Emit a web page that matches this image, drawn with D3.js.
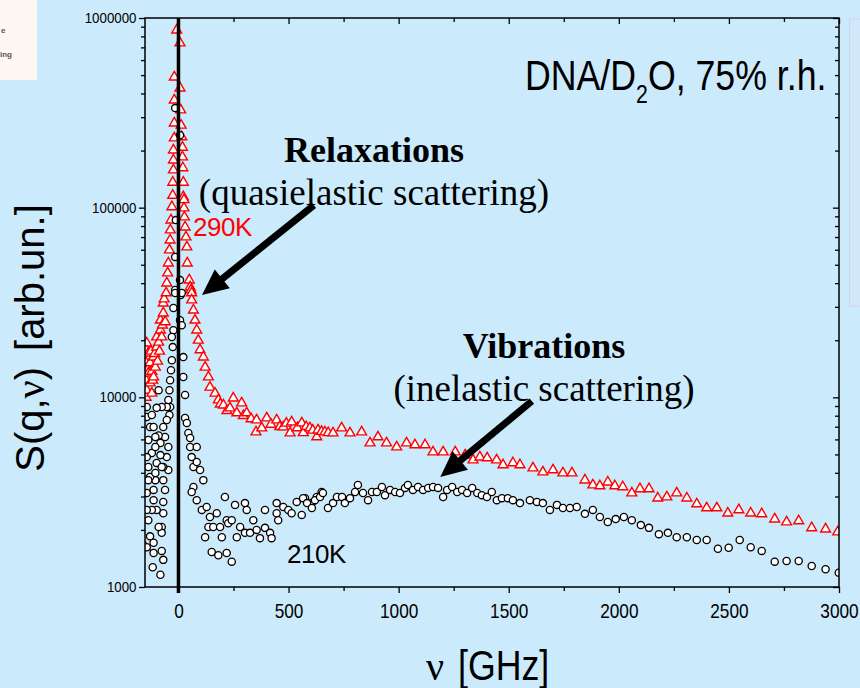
<!DOCTYPE html>
<html><head><meta charset="utf-8">
<script src="https://cdn.jsdelivr.net/npm/d3@7"></script>
<style>body{margin:0;background:#cbeafc;} svg{display:block}</style>
</head><body><svg id="c" width="860" height="688"></svg>
<script>
// ---- data: 290K (red triangles), frequency in GHz and S(q,nu) in arb. units
const nu290 = [-150,-147,-147,-147,-147,-144,-144,-140,-137,-137,-129,-129,-125,-121,-121,-117,-113,-113,-108,-105,-99,-99,-95,-90,-86,-82,-82,-76,-73,-69,-69,-65,-60,-56,-53,-49,-46,-41,-38,-37,-34,-30,-26,-26,-23,-23,-23,-19,-19,-19,-19,-8,
  7,7,10,12,15,18,18,20,22,22,25,25,27,30,34,38,40,49,53,57,60,60,68,75,83,90,98,113,121,136,143,166,181,190,204,220,234,249,265,287,295,310,330,352,355,378,401,420,446,460,476,490,507,514,540,560,567,580,597,610,628,634,650,665,680,702,741,779,832,870,906,945,991,1036,1074,1120,1156,1202,1257,1302,1338,1369,1402,1445,1474,1519,1551,1610,1655,1701,1746,1787,1846,1882,1914,1950,1982,2018,2059,2096,2137,2177,2218,2263,2309,2354,2399,2445,2495,2545,2599,2649,2708,2762,2817,2876,2939,2994];
const s290 = [1620,18000,15200,12300,10000,19300,10900,14000,17100,13400,15200,11900,17500,10500,13700,12300,12800,16300,17000,14400,18400,20800,15500,19500,17500,22600,25500,20800,24000,27800,31400,33000,25000,35500,40000,45200,51000,59800,67400,76200,86000,101000,116000,136000,158000,178000,201000,233000,279000,369000,488000,863000,
  738000,427000,327000,272000,236000,208000,185000,162000,136000,114000,110000,99500,89200,79000,70000,62000,51000,41500,38100,36800,35500,32600,28800,25500,22600,20000,17800,16300,14400,12800,11300,10500,9680,9200,9100,8500,8780,9900,8270,9330,8000,8270,7700,6560,7590,6890,7780,7200,7590,7000,6970,7300,6480,7410,6900,7320,6500,7000,6890,6700,6180,6720,6600,6560,6500,6480,6890,6480,6560,5740,6180,5740,5470,5740,5610,5610,5150,5150,5150,4960,4670,4840,4790,4670,4400,4510,4400,4240,4040,4140,3990,3990,3660,3450,3410,3570,3410,3370,3130,3290,3290,2940,2980,3130,2940,2740,2610,2610,2450,2550,2450,2430,2280,2200,2230,2050,2020,1950];

// ---- data: 210K (black circles)
const nu210 = [-15,7,-12,-15,7,-15,10,15,-15,-23,-23,-30,-26,-30,-34,-38,-41,-46,-38,-53,-41,-53,-69,-61,-82,-90,-46,-53,-46,-69,-61,-69,-69,-76,-76,-90,-99,-113,-121,-105,-129,-137,-137,-129,-113,-113,-117,-82,-69,-76,-144,-144,-144,-129,-113,-121,-105,-99,-82,-69,-90,-76,-99,-121,-105,-137,-144,-144,-113,-144,-76,-105,-137,
  7,15,22,22,30,30,38,45,53,53,60,83,68,83,98,113,68,60,83,106,128,143,136,121,158,174,189,197,211,219,226,242,257,265,280,302,310,302,325,340,355,370,393,393,416,423,446,446,453,476,499,514,537,560,575,605,628,650,151,181,219,242,
  566,584,606,620,643,656,679,702,720,743,756,779,802,815,838,861,879,901,924,938,961,984,1006,1029,1042,1065,1088,1111,1134,1156,1179,1202,1220,1243,1266,1288,1311,1334,1357,1378,1401,1423,1446,1469,1496,1519,1551,1596,1628,1655,1687,1719,1746,1778,1809,
  1846,1882,1914,1950,1986,2023,2059,2100,2137,2182,2223,2263,2309,2354,2399,2450,2499,2549,2599,2649,2708,2762,2817,2876,2939,2999];
const s210 = [335000,241000,86000,55000,41500,36800,34600,35500,35500,29600,22600,20800,18400,15700,13900,12300,10900,9680,8890,8890,8070,7590,6970,6180,5740,6300,5470,4840,4140,3660,3250,2810,2450,2070,1930,2070,2550,2870,2550,3660,3800,3660,2250,1850,1710,1510,1270,1160,1390,1550,1620,8890,7870,6970,6970,5090,5470,4510,4960,4290,10900,8890,8800,8070,6180,5960,4840,3130,3250,2550,4290,3990,4290,
  25500,24000,16300,12800,10300,7780,7320,6480,6100,5470,4840,5470,4290,4560,4140,3660,3370,3170,2870,2550,2640,2340,2070,1830,2070,2450,2070,1830,2980,2250,2170,2250,2710,1830,2070,2770,2550,1930,1930,2250,2000,1810,2550,2050,1930,1810,2770,2450,2250,2640,2550,2450,2810,2400,2940,2770,2980,3170,1530,1470,1510,1360,
  2940,2770,2610,2870,2980,3130,2610,2770,2980,2980,2770,2940,3170,3450,3130,2870,3170,3170,3370,3050,3250,3170,3130,3330,3450,3250,3370,3250,3330,3370,3330,2980,3250,3370,3170,3250,3130,3330,3130,3050,2980,3170,2870,2940,2940,2870,2770,2870,2810,2770,2550,2710,2610,2610,2640,
  2430,2550,2340,2200,2280,2340,2250,2120,2050,1900,1930,1830,1830,1770,1770,1590,1610,1770,1620,1550,1360,1370,1370,1290,1240,1190];

// ---- axes ticks
const xMajor = [0,500,1000,1500,2000,2500,3000];
const xMinor = [250,750,1250,1750,2250,2750];
const yMajor = [1000,10000,100000,1000000];
const yMinorMult = [2,3,4,5,6,7,8,9];
const yDecades = [1000,10000,100000];

// ---- annotations (data coordinates)
const arrows = [
  {from:[615,103000], to:[107,34600]},
  {from:[1605,9550], to:[1189,3800]}
];

const BG = "#cbeafc";
const W = 860, H = 688;
const m = {l:145, t:18, r:839, b:587};
const x = d3.scaleLinear().domain([-152,3000]).range([m.l,m.r]);
const y = d3.scaleLog().domain([1000,1e6]).range([m.b,m.t]);
const SANS = "Arial, 'Liberation Sans', sans-serif";
const SERIF = "'Times New Roman', 'Liberation Serif', serif";

const svg = d3.select("#c");
svg.append("rect").attr("width",W).attr("height",H).attr("fill",BG);

// remnants of slide at edges
svg.append("rect").attr("x",0).attr("y",0).attr("width",37).attr("height",80).attr("fill","#fdf8f2");
svg.append("text").attr("x",1).attr("y",33).attr("font-family",SANS).attr("font-size",8).attr("font-weight","bold").attr("fill","#555").text("e");
svg.append("text").attr("x",0).attr("y",57).attr("font-family",SANS).attr("font-size",8).attr("font-weight","bold").attr("fill","#555").text("ing");
svg.append("rect").attr("x",849.5).attr("y",19).attr("width",12).attr("height",287).attr("fill","#d3e7fb").attr("stroke","#cdd4ec").attr("stroke-width",1);

svg.append("defs").append("clipPath").attr("id","clip").append("rect")
  .attr("x",m.l).attr("y",m.t).attr("width",m.r-m.l).attr("height",m.b-m.t);

// ---- axes
const yMinor = [];
yDecades.forEach(d => yMinorMult.forEach(k => yMinor.push(d*k)));

function styleAxis(g){ g.select(".domain").remove(); g.selectAll("line").attr("stroke","#000").attr("stroke-width",1.3); }

const gxB = svg.append("g").attr("transform",`translate(0,${m.b})`)
  .call(d3.axisBottom(x).tickValues(xMajor).tickSize(6).tickPadding(10).tickFormat(d3.format("d")));
styleAxis(gxB);
gxB.selectAll("text").attr("font-family",SANS).attr("font-size",21).attr("fill","#000")
  .attr("transform","scale(0.82,1)");
svg.append("g").attr("transform",`translate(0,${m.b})`)
  .call(d3.axisBottom(x).tickValues(xMinor).tickSize(4).tickFormat("")).call(styleAxis);
svg.append("g").attr("transform",`translate(0,${m.t})`)
  .call(d3.axisTop(x).tickValues(xMajor).tickSize(-6).tickFormat("")).call(styleAxis);
svg.append("g").attr("transform",`translate(0,${m.t})`)
  .call(d3.axisTop(x).tickValues(xMinor).tickSize(-4).tickFormat("")).call(styleAxis);

const gyL = svg.append("g").attr("transform",`translate(${m.l},0)`)
  .call(d3.axisLeft(y).tickValues(yMajor).tickSize(6).tickPadding(3).tickFormat(d3.format("d")));
styleAxis(gyL);
gyL.selectAll("text").attr("font-family",SANS).attr("font-size",14).attr("fill","#000")
  .attr("transform","scale(0.95,1)");
svg.append("g").attr("transform",`translate(${m.l},0)`)
  .call(d3.axisLeft(y).tickValues(yMinor).tickSize(4).tickFormat("")).call(styleAxis);
svg.append("g").attr("transform",`translate(${m.r},0)`)
  .call(d3.axisRight(y).tickValues(yMajor).tickSize(-6).tickFormat("")).call(styleAxis);
svg.append("g").attr("transform",`translate(${m.r},0)`)
  .call(d3.axisRight(y).tickValues(yMinor).tickSize(-4).tickFormat("")).call(styleAxis);

// ---- data marks
const gData = svg.append("g").attr("clip-path","url(#clip)");
const tri = d3.symbol().type(d3.symbolTriangle).size(42);
gData.selectAll("path.t290").data(d3.zip(nu290,s290)).join("path").attr("class","t290")
  .attr("d",tri).attr("transform",d=>`translate(${x(d[0])},${y(d[1])})`)
  .attr("fill","#fff").attr("stroke","#ff0000").attr("stroke-width",1.4);
gData.selectAll("circle.c210").data(d3.zip(nu210,s210)).join("circle").attr("class","c210")
  .attr("cx",d=>x(d[0])).attr("cy",d=>y(d[1])).attr("r",3.6)
  .attr("fill","#fff").attr("stroke","#000").attr("stroke-width",1.3);

// frame
svg.append("rect").attr("x",m.l).attr("y",m.t).attr("width",m.r-m.l).attr("height",m.b-m.t)
  .attr("fill","none").attr("stroke","#000").attr("stroke-width",1.5);
// zero line
svg.append("line").attr("x1",x(0)).attr("x2",x(0)).attr("y1",m.t).attr("y2",m.b+6)
  .attr("stroke","#000").attr("stroke-width",3.5);

// ---- texts
const t1 = svg.append("g").attr("transform","translate(525,90) scale(0.85,1)")
  .append("text").attr("font-family",SANS).attr("font-size",42).attr("fill","#000");
t1.append("tspan").text("DNA/D");
t1.append("tspan").attr("font-size",25).attr("dy",13).text("2");
t1.append("tspan").attr("dy",-13).text("O, 75% r.h.");

svg.append("text").attr("x",374).attr("y",162).attr("text-anchor","middle")
  .attr("font-family",SERIF).attr("font-weight","bold").attr("font-size",36).text("Relaxations");
svg.append("text").attr("x",374).attr("y",205).attr("text-anchor","middle")
  .attr("font-family",SERIF).attr("font-size",37).text("(quasielastic scattering)");
svg.append("text").attr("x",544).attr("y",358).attr("text-anchor","middle")
  .attr("font-family",SERIF).attr("font-weight","bold").attr("font-size",36).text("Vibrations");
svg.append("text").attr("x",544).attr("y",401).attr("text-anchor","middle")
  .attr("font-family",SERIF).attr("font-size",37).text("(inelastic scattering)");

svg.append("text").attr("x",193).attr("y",236).attr("font-family",SANS).attr("font-size",26)
  .attr("fill","#ff0000").attr("letter-spacing",-0.5).text("290K");
svg.append("text").attr("x",287).attr("y",563).attr("font-family",SANS).attr("font-size",26)
  .attr("fill","#000").attr("letter-spacing",-0.5).text("210K");

// y label
const yl = svg.append("text").attr("transform","translate(44,338) rotate(-90)")
  .attr("text-anchor","middle").attr("font-family",SANS).attr("font-size",40).attr("fill","#000");
yl.append("tspan").text("S(q,");
yl.append("tspan").attr("font-family",SERIF).text("ν");
yl.append("tspan").text(")");
yl.append("tspan").attr("dx",16).text("[arb.un.]");

// x label
const xl = svg.append("g").attr("transform","translate(426,680)");
xl.append("text").attr("font-family",SERIF).attr("font-size",40).text("ν");
xl.append("g").attr("transform","translate(32,0) scale(0.85,1)")
  .append("text").attr("font-family",SANS).attr("font-size",42).text("[GHz]");

// arrows
arrows.forEach(a => {
  const p0 = [x(a.from[0]), y(a.from[1])], p1 = [x(a.to[0]), y(a.to[1])];
  const dx = p1[0]-p0[0], dy = p1[1]-p0[1], len = Math.hypot(dx,dy);
  const u = [dx/len, dy/len], n = [-u[1], u[0]];
  const L = 26, hw = 12;
  const b = [p1[0]-u[0]*L, p1[1]-u[1]*L];
  svg.append("line").attr("x1",p0[0]).attr("y1",p0[1]).attr("x2",b[0]+u[0]*2).attr("y2",b[1]+u[1]*2)
    .attr("stroke","#000").attr("stroke-width",7);
  svg.append("path").attr("d",`M${p1[0]},${p1[1]}L${b[0]+n[0]*hw},${b[1]+n[1]*hw}L${b[0]-n[0]*hw},${b[1]-n[1]*hw}Z`)
    .attr("fill","#000");
});
</script></body></html>
